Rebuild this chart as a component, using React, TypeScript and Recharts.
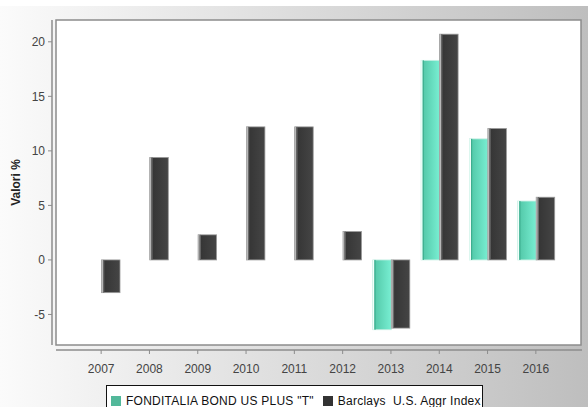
import React from 'react';
import { BarChart, Bar, XAxis, YAxis, usePlotArea } from 'recharts';

const years = ['2007', '2008', '2009', '2010', '2011', '2012', '2013', '2014', '2015', '2016'];
const fonditaliaValues: (number | null)[] = [null, null, null, null, null, null, -6.4, 18.3, 11.1, 5.4];
const barclaysValues: number[] = [-3.0, 9.4, 2.3, 12.2, 12.2, 2.6, -6.25, 20.7, 12.05, 5.75];
const seriesNames = ['FONDITALIA BOND US PLUS "T"', 'Barclays  U.S. Aggr Index'];
const legendColors = ['#52b89a', '#333333'];
const yTicks = [-5, 0, 5, 10, 15, 20];
const yDomain: [number, number] = [-7.8, 22];
const yLabel = 'Valori %';

const data = years.map((year, i) => ({
  year,
  fond: fonditaliaValues[i],
  barc: barclaysValues[i],
}));

const FONT = '"Liberation Sans", Arial, sans-serif';

function PlotFrame() {
  const area = usePlotArea();
  if (!area) return null;
  const { x, y, width, height } = area;
  return (
    <g>
      <rect x={x} y={y} width={width} height={height} fill="#ffffff" stroke="#8c8c8c" strokeWidth={1.5} />
      <line x1={x - 4} x2={x - 4} y1={y} y2={y + height} stroke="#8c8c8c" strokeWidth={1.5} />
      <line x1={x} x2={x + width + 1} y1={y + height + 5} y2={y + height + 5} stroke="#8c8c8c" strokeWidth={1.5} />
    </g>
  );
}

const makeShape = (kind: 'fond' | 'barc') => (props: any) => {
  const { x, y, width, height } = props;
  if (height == null || width == null || !height || isNaN(height)) return <g />;
  const top = Math.min(y, y + height);
  const h = Math.abs(height);
  if (kind === 'fond') {
    return (
      <g>
        <rect x={x} y={top} width={width} height={h} fill="url(#gradFond)" stroke="#c6efe3" strokeWidth={0.8} />
        <rect x={x} y={top} width={1.6} height={h} fill="#f2fffb" />
        <rect x={x + 1.6} y={top} width={1.2} height={h} fill="#3fae90" />
      </g>
    );
  }
  return (
    <g>
      <rect x={x} y={top} width={width} height={h} fill="url(#gradBarc)" stroke="#9a9a9a" strokeWidth={0.8} />
      <rect x={x} y={top} width={1.6} height={h} fill="#b8b8b8" />
      <rect x={x + 1.6} y={top} width={1.2} height={h} fill="#6a6a6a" />
    </g>
  );
};

export default function App() {
  return (
    <div
      style={{
        position: 'absolute',
        left: 0,
        top: 0,
        width: 588,
        height: 407,
        overflow: 'hidden',
        background: '#ffffff',
        fontFamily: FONT,
      }}
    >
      <div
        style={{
          position: 'absolute',
          left: 0,
          top: 6,
          width: 588,
          height: 401,
          background: 'linear-gradient(to right, #fbfbfb, #bebebe)',
        }}
      />
      <div style={{ position: 'absolute', left: 0, top: 0 }}>
        <BarChart
          width={588}
          height={407}
          data={data}
          margin={{ top: 20, right: 7, left: 0, bottom: 32 }}
          barGap={0}
          barSize={18.5}
        >
          <defs>
            <linearGradient id="gradFond" x1="0" y1="0" x2="1" y2="0">
              <stop offset="0%" stopColor="#4fc4a4" />
              <stop offset="100%" stopColor="#78eed2" />
            </linearGradient>
            <linearGradient id="gradBarc" x1="0" y1="0" x2="1" y2="0">
              <stop offset="0%" stopColor="#333333" />
              <stop offset="100%" stopColor="#454545" />
            </linearGradient>
          </defs>
          <PlotFrame />
          <XAxis
            dataKey="year"
            height={30}
            padding={{ left: 21, right: 21 }}
            axisLine={false}
            tickSize={4}
            tickMargin={15}
            tickLine={{ stroke: '#8c8c8c', transform: 'translate(0,5)' } as any}
            tick={{ fill: '#444444', fontSize: 12, fontFamily: FONT }}
          />
          <YAxis
            width={56}
            domain={yDomain}
            ticks={yTicks}
            allowDataOverflow
            axisLine={false}
            tickSize={4}
            tickMargin={7}
            tickLine={{ stroke: '#8c8c8c', transform: 'translate(-4,0)' } as any}
            tick={{ fill: '#444444', fontSize: 12, fontFamily: FONT }}
            label={{
              value: yLabel,
              angle: -90,
              position: 'insideLeft',
              offset: 16,
              style: { textAnchor: 'middle', fontWeight: 'bold', fontSize: 12, fill: '#222222', fontFamily: FONT },
            }}
          />
          <Bar dataKey="fond" name={seriesNames[0]} shape={makeShape('fond')} isAnimationActive={false} />
          <Bar dataKey="barc" name={seriesNames[1]} shape={makeShape('barc')} isAnimationActive={false} />
        </BarChart>
      </div>
      <div
        style={{
          position: 'absolute',
          left: 106,
          top: 385,
          width: 377,
          height: 30,
          border: '1px solid #111111',
          background: '#ffffff',
          boxSizing: 'border-box',
          display: 'flex',
          alignItems: 'flex-start',
          paddingLeft: 4,
          paddingTop: 9,
        }}
      >
        {seriesNames.map((name, i) => (
          <div key={name} style={{ display: 'flex', alignItems: 'center', marginRight: i === 0 ? 9 : 0 }}>
            <div style={{ width: 10, height: 10, background: legendColors[i], marginRight: 5 }} />
            <span
              style={{
                fontSize: 12,
                lineHeight: '12px',
                letterSpacing: 0.25,
                whiteSpace: 'pre',
                color: '#111111',
                fontFamily: FONT,
              }}
            >
              {name}
            </span>
          </div>
        ))}
      </div>
    </div>
  );
}
